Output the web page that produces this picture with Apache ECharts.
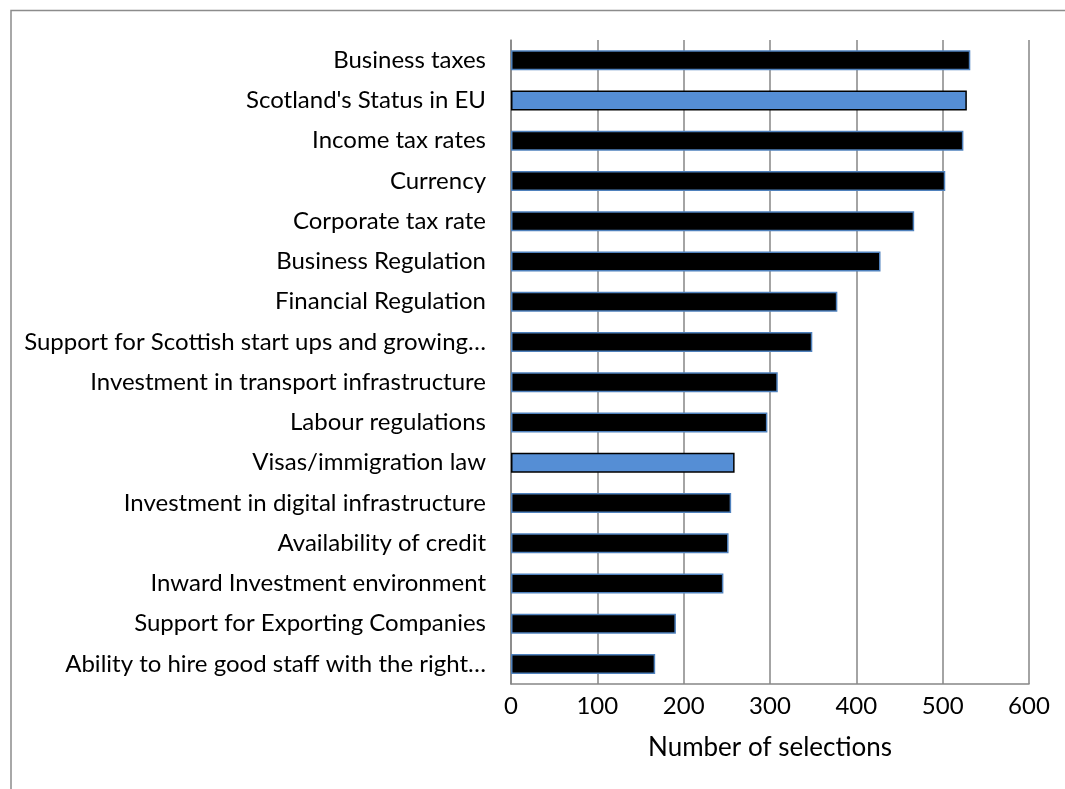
<!DOCTYPE html>
<html>
<head>
<meta charset="utf-8">
<script src="https://cdn.jsdelivr.net/npm/echarts@6/dist/echarts.min.js"></script>
<style>
  html, body { margin: 0; padding: 0; background: #fff; }
  #chart { width: 1065px; height: 789px; }
</style>
</head>
<body>
<div id="chart"></div>
<script>
// Factors chosen by businesses, ordered from most to least selected
const categories = [
  "Business taxes",
  "Scotland's Status in EU",
  "Income tax rates",
  "Currency",
  "Corporate tax rate",
  "Business Regulation",
  "Financial Regulation",
  "Support for Scottish start ups and growing…",
  "Investment in transport infrastructure",
  "Labour regulations",
  "Visas/immigration law",
  "Investment in digital infrastructure",
  "Availability of credit",
  "Inward Investment environment",
  "Support for Exporting Companies",
  "Ability to hire good staff with the right…"
];
const selections = [532, 528, 524, 503, 467, 428, 378, 349, 309, 297, 259, 255, 252, 246, 191, 167];
// Factors drawn in the highlight colour
const highlighted = ["Scotland's Status in EU", "Visas/immigration law"];
const xTicks = [0, 100, 200, 300, 400, 500, 600];

const FONT = 'Lato';
const chart = echarts.init(document.getElementById('chart'), null, { renderer: 'canvas' });

const barData = categories.map((c, i) => {
  const hi = highlighted.includes(c);
  return {
    value: selections[i],
    itemStyle: hi
      ? { color: '#558ED5', borderColor: '#000000', borderWidth: 1.5 }
      : { color: '#000000', borderColor: '#4F81BD', borderWidth: 1.5 }
  };
});

chart.setOption({
  animation: false,
  backgroundColor: '#ffffff',
  textStyle: { fontFamily: FONT },
  graphic: [{
    type: 'polyline',
    shape: { points: [[11, 800], [11, 10.5], [1070, 10.5]] },
    style: { stroke: '#8c8c8c', lineWidth: 1.5, fill: null },
    silent: true
  }],
  grid: { left: 511, right: 36, top: 40, bottom: 105, containLabel: false },
  xAxis: {
    type: 'value',
    min: xTicks[0],
    max: xTicks[xTicks.length - 1],
    interval: xTicks[1] - xTicks[0],
    name: 'Number of selections',
    nameLocation: 'middle',
    nameGap: 51,
    nameTextStyle: { fontFamily: FONT, fontSize: 26, color: '#000' },
    axisLine: { show: true, lineStyle: { color: '#868686', width: 1.5 } },
    axisTick: { show: false },
    axisLabel: { fontFamily: FONT, fontSize: 24, color: '#000', margin: 10 },
    splitLine: { show: true, lineStyle: { color: '#868686', width: 1.5 } }
  },
  yAxis: {
    type: 'category',
    data: categories,
    inverse: true,
    axisLine: { show: true, lineStyle: { color: '#868686', width: 1.5 } },
    axisTick: { show: false },
    axisLabel: { fontFamily: FONT, fontSize: 24, color: '#000', margin: 25 },
    splitLine: { show: false }
  },
  series: [{
    type: 'bar',
    data: barData,
    barWidth: 20,
    silent: true
  }]
});
</script>
</body>
</html>
